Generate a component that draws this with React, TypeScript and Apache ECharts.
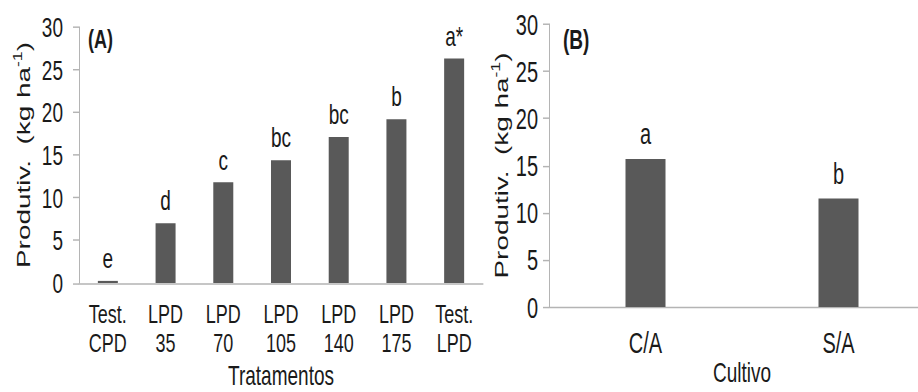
import React, { useEffect, useRef } from "react";
import * as echarts from "echarts";

const catsA = ["Test.\nCPD", "LPD\n35", "LPD\n70", "LPD\n105", "LPD\n140", "LPD\n175", "Test.\nLPD"];
const valsA = [0.25, 7.0, 11.8, 14.4, 17.1, 19.2, 26.3];
const lettersA = ["e", "d", "c", "bc", "bc", "b", "a*"];

const catsB = ["C/A", "S/A"];
const valsB = [15.7, 11.5];
const lettersB = ["a", "b"];

const FONT = "'Liberation Sans', Arial, sans-serif";
const TXT = "#1a1a1a";
const AX = "#b4b4b4";
const BAR = "#595959";
const S = 1.468;

export default function App() {
  const ref = useRef<HTMLDivElement>(null);
  useEffect(() => {
    const chart = echarts.init(ref.current!, undefined, { renderer: "svg" });
    const yName = "{t|Produtiv.  (kg ha}{s|-1}{t|)}";
    const yRich = {
      t: { fontSize: 19, fontFamily: FONT, color: TXT, lineHeight: 22 },
      s: { fontSize: 12, fontFamily: FONT, color: TXT, verticalAlign: "top", lineHeight: 22 },
    };
    const yAxisBase = (fs: number, margin: number, gap: number) => ({
      type: "value",
      min: 0,
      max: 30,
      interval: 5,
      splitLine: { show: false },
      axisLine: { show: true, lineStyle: { color: AX, width: 1 } },
      axisTick: { show: true, length: 6, lineStyle: { color: AX } },
      axisLabel: { fontSize: fs, fontFamily: FONT, color: TXT, margin },
      name: yName,
      nameLocation: "middle",
      nameGap: gap,
      nameMoveOverlap: false,
      nameTextStyle: { rich: yRich },
    });
    chart.setOption({
      animation: false,
      grid: [
        { left: 79, top: 18.4, width: 404, height: 174.4, outerBoundsMode: "none", containLabel: false },
        { left: 549, top: 16.35, width: 386, height: 192.8, outerBoundsMode: "none", containLabel: false },
      ],
      xAxis: [
        {
          type: "category",
          gridIndex: 0,
          data: catsA,
          axisLine: { lineStyle: { color: AX } },
          axisTick: { length: 5, lineStyle: { color: AX } },
          axisLabel: { interval: 0, fontSize: 18, lineHeight: 20, fontFamily: FONT, color: TXT, margin: 11 },
          name: "Tratamentos",
          nameLocation: "middle",
          nameGap: 62.5,
          nameMoveOverlap: false,
          nameTextStyle: { fontSize: 19, lineHeight: 15, fontFamily: FONT, color: TXT, verticalAlign: "middle" },
        },
        {
          type: "category",
          gridIndex: 1,
          data: catsB,
          axisLine: { lineStyle: { color: AX } },
          axisTick: { length: 6, lineStyle: { color: AX } },
          axisLabel: { interval: 0, fontSize: 20, fontFamily: FONT, color: TXT, margin: 14 },
          name: "Cultivo",
          nameLocation: "middle",
          nameGap: 44,
          nameMoveOverlap: false,
          nameTextStyle: { fontSize: 19, lineHeight: 15, fontFamily: FONT, color: TXT, verticalAlign: "middle" },
        },
      ],
      yAxis: [
        { ...yAxisBase(19, 16, 45), gridIndex: 0 },
        { ...yAxisBase(20, 11, 37), gridIndex: 1 },
      ],
      series: [
        {
          type: "bar",
          xAxisIndex: 0,
          yAxisIndex: 0,
          data: valsA,
          barWidth: 20,
          itemStyle: { color: BAR },
          label: {
            show: true,
            position: "top",
            distance: 6,
            fontSize: 19,
            fontFamily: FONT,
            color: TXT,
            formatter: (p: any) => lettersA[p.dataIndex],
          },
        },
        {
          type: "bar",
          xAxisIndex: 1,
          yAxisIndex: 1,
          data: valsB,
          barWidth: 40,
          itemStyle: { color: BAR },
          label: {
            show: true,
            position: "top",
            distance: 7,
            fontSize: 20,
            fontFamily: FONT,
            color: TXT,
            formatter: (p: any) => lettersB[p.dataIndex],
          },
        },
      ],
      graphic: [
        { type: "text", left: 88, top: 18, style: { text: "(A)", font: `bold 18px ${FONT}`, fill: TXT } },
        { type: "text", left: 563, top: 17, style: { text: "(B)", font: `bold 19px ${FONT}`, fill: TXT } },
      ],
    });
    return () => chart.dispose();
  }, []);
  return (
    <div
      style={{
        position: "fixed",
        left: 0,
        top: 0,
        width: 918,
        height: 392 / S,
        transform: `scaleY(${S})`,
        transformOrigin: "0 0",
        background: "#fff",
      }}
    >
      <div ref={ref} style={{ width: 918, height: 392 / S }} />
    </div>
  );
}
